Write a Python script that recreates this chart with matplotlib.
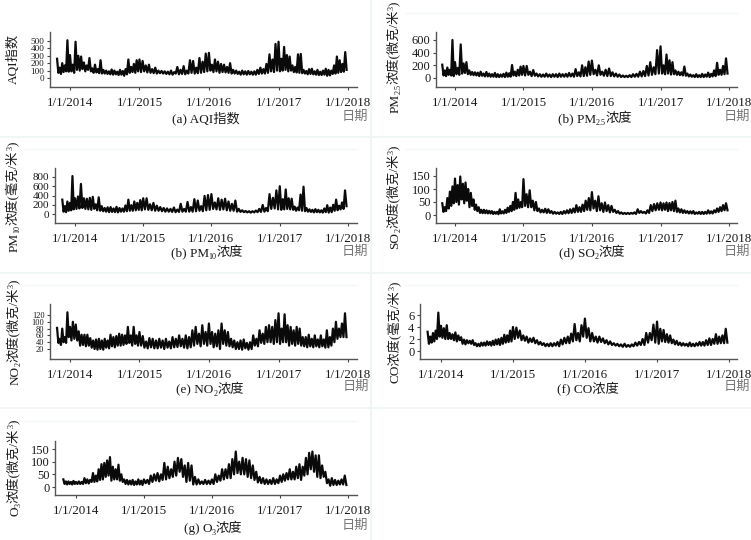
import numpy as np
import pandas as pd
import matplotlib
matplotlib.use("Agg")
import matplotlib.pyplot as plt
from matplotlib.lines import Line2D
from matplotlib.transforms import ScaledTranslation

plt.rcParams['font.family'] = ['Liberation Serif', 'Noto Sans CJK SC', 'DejaVu Sans']

W, H = 751, 540

# ---------------------------------------------------------------------------
# Data: one row per year, high and low values in turn
# ---------------------------------------------------------------------------
year_starts = ["2013-10-25", "2014-01-01", "2015-01-01", "2016-01-01", "2017-01-01", "2018-01-01"]
year_ticks = ["1/1/2014", "1/1/2015", "1/1/2016", "1/1/2017", "1/1/2018"]

aqi = [
    [260, 70, 140, 55, 200, 80, 170, 90, 510, 85],
    [310, 90, 180, 70, 490, 110, 300, 100, 290, 120, 210, 90, 170, 110, 270, 90, 130, 70, 180, 75, 120, 65, 240, 60, 110, 60,
     100, 55, 90, 50, 115, 45, 100, 50, 85, 40, 110, 45, 95, 30, 120, 50, 250, 70, 150, 80, 190, 70, 240, 90],
    [250, 80, 230, 90, 170, 75, 180, 70, 120, 65, 140, 60, 100, 65, 95, 60, 90, 55, 85, 50, 100, 45, 80, 60, 150, 50, 110, 55,
     160, 50, 100, 60, 240, 70, 230, 60, 140, 65, 270, 70, 220, 80, 330, 90],
    [340, 100, 180, 80, 250, 90, 220, 70, 190, 80, 180, 75, 150, 70, 200, 60, 110, 60, 100, 55, 85, 45, 100, 50, 90, 45, 95, 50,
     85, 45, 90, 45, 110, 55, 140, 60, 120, 60, 190, 70, 320, 90, 250, 80, 460, 100],
    [490, 90, 260, 100, 420, 110, 310, 90, 290, 100, 170, 80, 150, 75, 320, 70, 325, 65, 110, 60, 95, 50, 120, 55, 125, 50, 90, 45,
     110, 40, 85, 40, 100, 45, 125, 30, 110, 35, 100, 55, 170, 60, 290, 70, 240, 80, 190, 85, 350, 110],
]
pm25 = [
    [210, 40, 120, 30, 165, 50, 130, 40, 600, 30],
    [250, 60, 160, 50, 530, 70, 230, 80, 250, 60, 120, 50, 95, 45, 90, 40, 85, 30, 100, 35, 70, 25, 95, 25, 70, 20,
     60, 20, 80, 15, 60, 15, 55, 20, 65, 15, 85, 20, 75, 20, 205, 40, 100, 30, 130, 40, 180, 50],
    [190, 40, 190, 50, 100, 30, 125, 35, 70, 25, 60, 20, 55, 20, 70, 20, 55, 15, 60, 20, 60, 15, 70, 20, 60, 20, 65, 20,
     80, 25, 70, 20, 140, 30, 90, 25, 200, 30, 170, 35, 260, 50],
    [275, 60, 130, 40, 200, 50, 100, 35, 130, 30, 150, 30, 90, 25, 70, 20, 55, 15, 40, 15, 35, 15, 45, 15, 60, 20, 65, 20,
     100, 25, 110, 30, 190, 40, 250, 50, 170, 60, 440, 70],
    [500, 70, 200, 60, 370, 70, 280, 55, 250, 60, 120, 50, 100, 45, 90, 40, 180, 35, 70, 25, 55, 20, 45, 15, 60, 15, 45, 15,
     65, 15, 55, 20, 85, 15, 65, 25, 120, 30, 240, 50, 130, 50, 190, 60, 310, 70],
]
pm10 = [
    [310, 50, 170, 40, 270, 70, 240, 80, 820, 100],
    [340, 110, 380, 120, 650, 130, 340, 110, 330, 100, 350, 90, 370, 110, 210, 80, 360, 70, 170, 60, 130, 50, 145, 40, 150, 45,
     120, 40, 155, 35, 130, 50, 120, 50, 185, 60, 310, 70, 190, 70, 270, 80, 240, 90, 300, 80],
    [340, 100, 340, 90, 210, 80, 240, 70, 180, 70, 150, 60, 130, 50, 120, 50, 110, 45, 140, 40, 95, 45, 220, 50, 110, 50,
     260, 50, 150, 50, 320, 60, 290, 70, 170, 60, 390, 80, 410, 90],
    [430, 110, 250, 100, 340, 90, 310, 100, 330, 80, 270, 70, 220, 70, 290, 50, 110, 45, 80, 40, 65, 35, 60, 30, 60, 35, 75, 40,
     110, 45, 195, 50, 130, 60, 430, 110, 350, 120, 510, 100],
    [600, 90, 320, 100, 530, 110, 340, 100, 330, 90, 160, 70, 140, 80, 420, 70, 590, 60, 130, 50, 100, 45, 90, 35, 105, 40, 90, 35,
     80, 30, 120, 40, 190, 30, 140, 40, 200, 70, 310, 80, 180, 100, 250, 110, 510, 170],
]
so2 = [
    [45, 12, 30, 15, 65, 25, 90, 35, 110, 45],
    [140, 50, 115, 40, 148, 60, 120, 45, 125, 55, 100, 30, 85, 35, 60, 20, 40, 15, 30, 8, 20, 7, 20, 7, 18, 6, 16, 6,
     15, 4, 12, 5, 12, 3, 22, 6, 14, 6, 20, 8, 28, 12, 35, 15, 50, 20, 85, 25, 60, 28, 50, 30],
    [138, 35, 80, 30, 95, 30, 55, 18, 50, 15, 25, 10, 20, 10, 24, 8, 22, 8, 15, 5, 12, 5, 10, 4, 12, 4, 15, 6, 18, 7,
     22, 8, 25, 10, 38, 12, 30, 12, 40, 15, 55, 20, 65, 18],
    [88, 25, 55, 15, 72, 18, 45, 12, 48, 15, 38, 10, 35, 12, 20, 8, 15, 5, 10, 4, 8, 4, 8, 4, 8, 5, 10, 4, 22, 8, 15, 8,
     12, 6, 18, 8, 38, 15, 42, 18, 45, 20],
    [48, 18, 45, 20, 48, 15, 46, 18, 50, 15, 55, 12, 25, 10, 22, 8, 18, 8, 15, 6, 14, 6, 15, 4, 10, 5, 12, 4, 12, 4,
     12, 5, 18, 6, 14, 6, 18, 10, 25, 12, 30, 15, 38, 18, 45, 18],
]
no2 = [
    [82, 38, 50, 32, 80, 40, 55, 38, 128, 55],
    [85, 45, 100, 50, 92, 45, 72, 30, 62, 32, 62, 28, 62, 30, 52, 24, 45, 20, 48, 18, 50, 20, 45, 18, 50, 24, 45, 22, 62, 28,
     55, 25, 58, 30, 65, 30, 62, 32, 60, 35, 85, 38, 60, 30, 85, 35, 60, 30],
    [70, 30, 58, 24, 42, 22, 52, 25, 50, 22, 45, 22, 50, 24, 45, 20, 50, 24, 42, 22, 55, 25, 50, 26, 60, 28, 50, 24,
     60, 22, 55, 25, 75, 30, 85, 35, 65, 28, 90, 35, 70, 30],
    [95, 35, 70, 25, 65, 28, 75, 20, 95, 35, 75, 30, 70, 28, 50, 25, 45, 20, 40, 20, 45, 18, 48, 22, 38, 18, 40, 20, 60, 30,
     50, 28, 75, 38, 65, 35, 85, 40, 90, 40, 85, 35, 105, 40],
    [125, 35, 80, 40, 122, 40, 90, 30, 85, 35, 75, 30, 85, 35, 80, 30, 55, 28, 55, 25, 62, 28, 50, 25, 60, 28, 48, 25, 60, 28,
     48, 24, 75, 25, 55, 30, 80, 40, 100, 50, 80, 55, 95, 55, 125, 55],
]
co = [
    [3.2, 1.2, 2.4, 1.4, 3.0, 1.6, 3.4, 2.0, 6.4, 2.4],
    [4.2, 2.2, 3.8, 2.0, 4.3, 2.0, 3.0, 2.0, 2.8, 1.8, 3.1, 1.6, 2.6, 1.8, 2.3, 1.2, 1.9, 1.1, 1.8, 1.3, 1.7, 1.2, 1.8, 1.0, 1.3, 0.8,
     1.2, 0.8, 1.4, 0.9, 1.4, 0.9, 1.6, 1.0, 1.5, 0.9, 1.7, 1.0, 1.9, 1.1, 2.0, 1.0, 2.2, 1.2, 2.7, 1.4, 2.6, 1.5, 3.4, 1.6],
    [4.0, 2.0, 3.9, 2.2, 3.4, 1.8, 2.6, 1.7, 2.4, 1.4, 2.1, 1.5, 2.2, 1.3, 1.8, 1.1, 1.5, 1.0, 1.3, 0.8, 1.2, 0.8, 1.3, 0.8, 1.3, 0.9,
     1.5, 0.8, 1.9, 1.1, 2.2, 1.3, 2.4, 1.3, 2.9, 1.6, 4.5, 1.8, 3.0, 1.6, 4.3, 2.4],
    [5.4, 2.2, 3.8, 1.6, 3.0, 1.6, 2.4, 1.4, 2.4, 1.5, 2.1, 1.3, 1.8, 1.1, 1.6, 1.0, 1.3, 0.9, 1.2, 0.8, 1.1, 0.7, 1.2, 0.7, 1.0, 0.7,
     1.1, 0.8, 1.4, 0.9, 1.5, 1.0, 2.0, 1.0, 3.0, 1.4, 3.0, 1.8, 4.4, 1.4],
    [4.9, 1.2, 3.7, 1.6, 3.5, 1.5, 2.8, 1.4, 2.6, 1.3, 1.9, 1.1, 1.7, 1.0, 1.4, 0.9, 1.3, 0.9, 1.2, 0.8, 1.4, 0.8, 1.2, 0.8, 1.3, 0.9,
     1.5, 0.9, 1.5, 0.9, 1.8, 1.0, 2.1, 1.0, 2.0, 1.2, 2.8, 1.2, 2.4, 1.3, 2.6, 1.3, 3.7, 1.4],
]
o3 = [
    [30, 12, 22, 10, 22, 12, 20, 10, 24, 12],
    [20, 12, 22, 12, 20, 12, 35, 15, 30, 14, 28, 20, 55, 20, 45, 22, 70, 28, 90, 30, 95, 40, 105, 45, 118, 25, 80, 30, 70, 30,
     88, 25, 50, 20, 30, 12, 28, 10, 25, 10, 28, 8, 22, 10, 30, 10, 25, 8],
    [30, 15, 28, 12, 45, 20, 50, 25, 55, 22, 50, 28, 95, 30, 80, 35, 70, 40, 100, 45, 115, 60, 110, 40, 85, 20, 95, 25,
     85, 10, 40, 10, 30, 12, 22, 12, 28, 12, 25, 12],
    [30, 12, 50, 20, 45, 25, 70, 30, 70, 35, 90, 35, 110, 50, 140, 55, 100, 50, 115, 50, 110, 40, 105, 35, 85, 28, 60, 18,
     40, 15, 35, 12, 30, 12, 28, 12, 35, 12, 30, 15],
    [45, 20, 50, 25, 55, 30, 70, 30, 60, 30, 80, 35, 90, 28, 80, 45, 115, 50, 135, 70, 140, 60, 125, 40, 125, 35, 85, 40,
     60, 15, 30, 5, 35, 8, 28, 8, 25, 10, 30, 10, 45, 8],
]

# ---------------------------------------------------------------------------
# Panel layout, in pixels of the reference
# ---------------------------------------------------------------------------
panels = [
    dict(values=aqi, yticks=[0, 100, 200, 300, 400, 500], ref=(0, 78, 500, 41), size=6.6,
         box=(50, 32, 357, 87), xref=(70, 348),
         ylabel=[("AQI指数", 0)], ylabel_at=(13, 59),
         title=[("(a) AQI指数", 0)], title_at=(206, 118), date_at=(355, 116)),
    dict(values=pm25, yticks=[0, 200, 400, 600], ref=(0, 78, 600, 40), size=9,
         box=(436, 32, 737, 87), xref=(455, 729),
         ylabel=[("PM", 0), ("2.5", -1), ("浓度(微克/米", 0), ("3", 1), (")", 0)], ylabel_at=(394, 57),
         title=[("(b) PM", 0), ("2.5", -1), ("浓度", 0)], title_at=(595, 118), date_at=(737, 116)),
    dict(values=pm10, yticks=[0, 200, 400, 600, 800], ref=(0, 214, 800, 177), size=8,
         box=(55, 168, 357, 223), xref=(75, 348),
         ylabel=[("PM", 0), ("10", -1), ("浓度(毫克/米", 0), ("3", 1), (")", 0)], ylabel_at=(13, 197),
         title=[("(b) PM", 0), ("10", -1), ("浓度", 0)], title_at=(207, 252), date_at=(355, 251)),
    dict(values=so2, yticks=[0, 50, 100, 150], ref=(0, 215, 150, 176), size=9,
         box=(436, 168, 737, 223), xref=(455, 729),
         ylabel=[("SO", 0), ("2", -1), ("浓度(微克/米", 0), ("3", 1), (")", 0)], ylabel_at=(394, 197),
         title=[("(d) SO", 0), ("2", -1), ("浓度", 0)], title_at=(592, 252), date_at=(737, 251)),
    dict(values=no2, yticks=[20, 40, 60, 80, 100, 120], ref=(20, 349, 120, 315), size=6,
         box=(50, 304, 357, 359), xref=(70, 348),
         ylabel=[("NO", 0), ("2", -1), ("浓度(微克/米", 0), ("3", 1), (")", 0)], ylabel_at=(14, 332),
         title=[("(e) NO", 0), ("2", -1), ("浓度", 0)], title_at=(210, 389), date_at=(356, 386)),
    dict(values=co, yticks=[0, 2, 4, 6], ref=(0, 351, 6, 315), size=9,
         box=(420, 304, 737, 359), xref=(441, 729),
         ylabel=[("CO浓度(毫克/米", 0), ("3", 1), (")", 0)], ylabel_at=(395, 332),
         title=[("(f) CO浓度", 0)], title_at=(588, 389), date_at=(737, 386)),
    dict(values=o3, yticks=[0, 50, 100, 150], ref=(0, 487, 150, 449), size=9,
         box=(55, 441, 357, 495), xref=(76, 348),
         ylabel=[("O", 0), ("3", -1), ("浓度(微克/米", 0), ("3", 1), (")", 0)], ylabel_at=(14, 468),
         title=[("(g) O", 0), ("3", -1), ("浓度", 0)], title_at=(213, 528), date_at=(355, 525)),
]


def series_frame(rows):
    # every row runs over its own year, so the points line up with the year ticks
    dates, vals = [], []
    for i, row in enumerate(rows):
        a = pd.Timestamp(year_starts[i]).value
        b = pd.Timestamp(year_starts[i + 1]).value
        dates.extend(pd.to_datetime(np.linspace(a, b, len(row), endpoint=False).astype("int64")))
        vals.extend(row)
    return dates, vals


def mixed_text(fig, x, y, pieces, size, rotation=0, color="#1a1a1a"):
    # text with sub and superscripts; (x, y) is the centre in reference pixels
    renderer = fig.canvas.get_renderer()
    fx, fy = x / W, 1 - y / H
    angle = np.deg2rad(rotation)
    along = np.array([np.cos(angle), np.sin(angle)])
    across = np.array([-np.sin(angle), np.cos(angle)])
    items, total = [], 0
    for s, shift in pieces:
        fs = size if shift == 0 else size * 0.62
        t = fig.text(0, 0, s, fontsize=fs, color=color, rotation=rotation,
                     rotation_mode="anchor", ha="left", va="baseline")
        box = t.get_window_extent(renderer)
        adv = box.height if rotation == 90 else box.width
        items.append((t, shift, adv))
        total += adv
    pos = -total / 2
    for t, shift, adv in items:
        off = {0: 0, -1: -2.5, 1: 5}[shift]
        p = along * pos + across * (off - size * 0.45)
        t.set_position((fx + p[0] / W, fy + p[1] / H))
        pos += adv


fig = plt.figure(figsize=(W / 100, H / 100), dpi=100)

# pale scan lines between the panels
pale = "#eef5f4"
for y_px in [137, 273, 408]:
    fig.add_artist(Line2D([0, 1], [1 - y_px / H] * 2, color=pale, lw=1.2))
fig.add_artist(Line2D([371 / W] * 2, [0, 1], color=pale, lw=1.5))
for x0_px, x1_px, y_px in [(406, 737, 13), (406, 737, 149), (25, 357, 149), (25, 357, 285), (406, 737, 285), (25, 357, 421)]:
    fig.add_artist(Line2D([x0_px / W, x1_px / W], [1 - y_px / H] * 2, color="#f2f6f5", lw=1))

tick_dates = pd.to_datetime(year_starts[1:])
label_shift = ScaledTranslation(-1.5 / 100, 0, fig.dpi_scale_trans)
for p in panels:
    left, top, right, bottom = p["box"]
    ax = fig.add_axes([left / W, 1 - bottom / H, (right - left) / W, (bottom - top) / H])
    ax.patch.set_alpha(0)
    dates, vals = series_frame(p["values"])
    ax.plot(dates, vals, color="#0a0a0a", lw=1.6, solid_joinstyle="round")

    # scales from two reference points on each axis
    v0, y0, v1, y1 = p["ref"]
    per_px = (v1 - v0) / (y0 - y1)
    ax.set_ylim(v0 - (bottom - y0) * per_px, v0 + (y0 - top) * per_px)
    x0, x1 = p["xref"]
    d0, d1 = matplotlib.dates.date2num(tick_dates[0]), matplotlib.dates.date2num(tick_dates[-1])
    per_x = (d1 - d0) / (x1 - x0)
    ax.set_xlim(d0 - (x0 - left) * per_x, d0 + (right - x0) * per_x)

    ax.set_xticks(tick_dates)
    ax.set_xticklabels(year_ticks, fontsize=9.4, color="#1a1a1a")
    for lab in ax.get_xticklabels():
        lab.set_transform(lab.get_transform() + label_shift)
    ax.set_yticks(p["yticks"])
    ax.set_yticklabels([str(v) for v in p["yticks"]], fontsize=p["size"], color="#1a1a1a")
    ax.tick_params(axis="x", length=2.5, width=0.8, color="#444444", pad=5)
    ax.tick_params(axis="y", length=2.5, width=0.8, color="#444444", pad=1.5)
    for side in ["top", "right"]:
        ax.spines[side].set_visible(False)
    for side in ["left", "bottom"]:
        ax.spines[side].set_color("#555555")
        ax.spines[side].set_linewidth(1.0)

    mixed_text(fig, *p["ylabel_at"], p["ylabel"], 9.5, rotation=90)
    mixed_text(fig, *p["title_at"], p["title"], 9.5)
    mixed_text(fig, *p["date_at"], [("日期", 0)], 9.5, color="#777777")

fig.savefig("out.png", dpi=100)
